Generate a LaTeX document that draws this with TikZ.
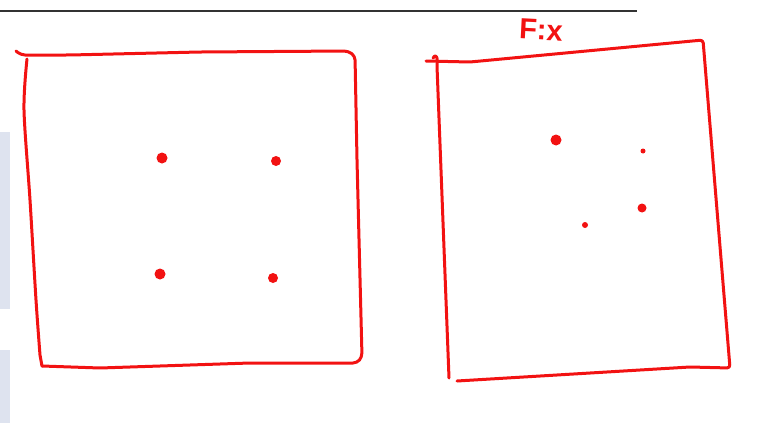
\documentclass[tikz,border=0pt]{standalone}
\usepackage{fontspec}
\setsansfont{Liberation Sans}
\usepackage{tikz}
\usetikzlibrary{calc}
\definecolor{penR}{RGB}{242,18,18}
\definecolor{sideB}{RGB}{222,227,239}
\tikzset{pen/.style={penR, line width=3pt, line cap=round, line join=round},
  dot/.style={circle, fill=penR, inner sep=0pt, minimum size=#1}}

\begin{document}
\begin{tikzpicture}[x=1pt, y=-1pt]
\useasboundingbox (0,0) rectangle (773,423);
% side bars
\fill[sideB] (0,132) rectangle (10,309);
\fill[sideB] (0,350) rectangle (10,423);
% rule at the top
\draw[black!80, line width=1.1pt] (0,11) -- (637,11);
% left square
\draw[pen, rounded corners=4pt] (16,51) -- (21,55) -- (70,55) -- (200,52) -- (348,51)
  -- (355,56) -- (357,160) -- (362,357) -- (357,363) -- (250,363) -- (100,368) -- (42,366);
\draw[pen] plot[smooth, tension=0.5] coordinates {(27,59) (24,110) (30,200) (36,300) (40,355)}
  -- (42,366);
% right square
\draw[pen, rounded corners=3pt] (426,61) -- (470,62) -- (703,40) -- (730,368)
  -- (690,367) -- (457,381);
\draw[pen] (433,58) .. controls (437,52) and (438,60) .. (437,66) -- (449,378);
% label
\node[penR, font=\sffamily\bfseries\fontsize{29}{29}\selectfont, rotate=-3] (lab) at (541,30) {F:x};
% points, left
\node[dot=11pt] (p1) at (162,158) {};
\node[dot=10pt] (p2) at (276,161) {};
\node[dot=11pt] (p3) at (160,274) {};
\node[dot=10pt] (p4) at (273,278) {};
% points, right
\node[dot=11pt] (q1) at (556,140) {};
\node[dot=5pt] (q2) at (643,151) {};
\node[dot=9pt] (q3) at (642,208) {};
\node[dot=6pt] (q4) at (585,225) {};
\end{tikzpicture}
\end{document}
